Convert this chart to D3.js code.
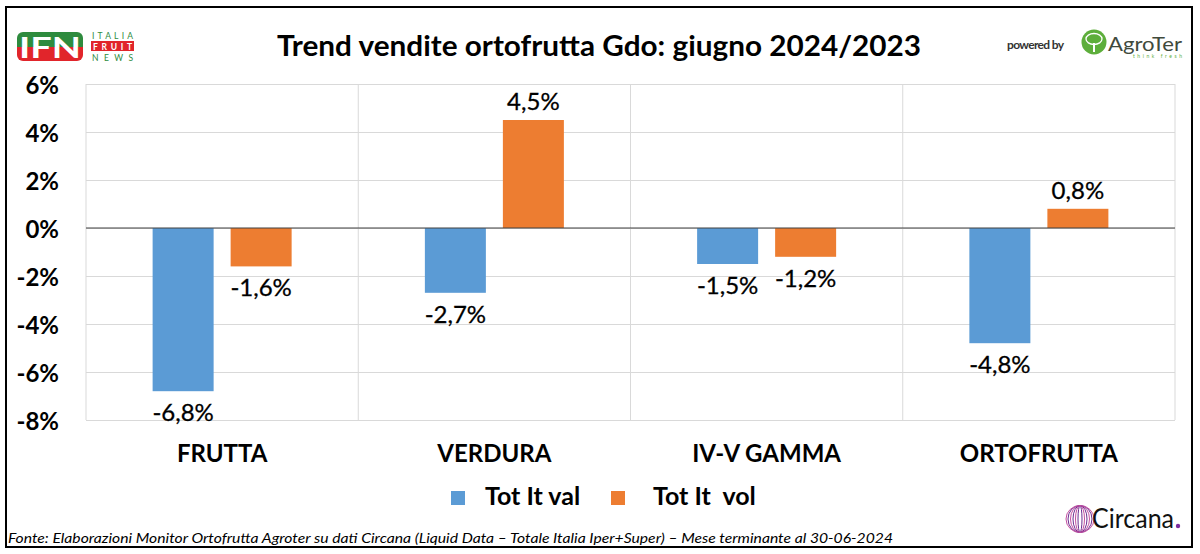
<!DOCTYPE html>
<html><head><meta charset="utf-8">
<script src="https://cdn.jsdelivr.net/npm/d3@7/dist/d3.min.js"></script>
<style>
html,body{margin:0;padding:0;background:#fff;}
svg{display:block;}
text{font-family:Lato,"Open Sans",sans-serif;}
</style></head>
<body>
<svg id="chart" width="1200" height="554"></svg>
<script>
const categories = ["FRUTTA", "VERDURA", "IV-V GAMMA", "ORTOFRUTTA"];
const seriesNames = ["Tot It val", "Tot It  vol"];
const totItVal = [-6.8, -2.7, -1.5, -4.8];
const totItVol = [-1.6, 4.5, -1.2, 0.8];
const yTicks = [6, 4, 2, 0, -2, -4, -6, -8];
const titleText = "Trend vendite ortofrutta Gdo: giugno 2024/2023";
const sourceText = "Fonte: Elaborazioni Monitor Ortofrutta Agroter su dati Circana (Liquid Data \u2013 Totale Italia Iper+Super) \u2013 Mese terminante al 30-06-2024";

const colors = ["#5B9BD5", "#ED7D31"];
const series = [totItVal, totItVol];

const svg = d3.select("#chart");
svg.append("rect").attr("width",1200).attr("height",554).attr("fill","#fff");
svg.append("rect").attr("x",6).attr("y",7).attr("width",1186).attr("height",540)
  .attr("fill","none").attr("stroke","#000").attr("stroke-width",2);

const pLeft = 86, pRight = 1175, pTop = 84, pBottom = 420;
const y = d3.scaleLinear().domain([-8, 6]).range([pBottom, pTop]);
const x0 = d3.scaleBand().domain(categories).range([pLeft, pRight]).padding(0);
const x1 = d3.scaleBand().domain([0, 1]).range([0, x0.bandwidth()])
  .paddingInner(0.218).paddingOuter(0.854);

// horizontal gridlines
const grid = svg.append("g").attr("transform", `translate(${pLeft},0)`)
  .call(d3.axisLeft(y).tickValues(yTicks).tickSize(-(pRight - pLeft)).tickFormat(""));
grid.select(".domain").remove();
grid.selectAll("line").attr("stroke", "#D9D9D9").attr("stroke-width", 1);

// vertical category separators
const bounds = categories.map(c => x0(c)).concat([pRight]);
svg.append("g").selectAll("line").data(bounds).join("line")
  .attr("x1", d => d).attr("x2", d => d).attr("y1", pTop).attr("y2", pBottom)
  .attr("stroke", "#D9D9D9").attr("stroke-width", 1);

// y axis labels
const yAxis = svg.append("g").attr("transform", `translate(59,0)`)
  .call(d3.axisLeft(y).tickValues(yTicks).tickSize(0).tickPadding(0)
    .tickFormat(d => (d < 0 ? "-" : "") + Math.abs(d) + "%"));
yAxis.select(".domain").remove();
yAxis.selectAll("text").attr("font-family", "Lato").attr("font-weight", "bold")
  .attr("font-size", 24).attr("fill", "#000").attr("dy", "0.4em");

// bars
const fmt = v => (v < 0 ? "-" : "") + d3.format(".1f")(Math.abs(v)).replace(".", ",") + "%";
const groups = svg.append("g").selectAll("g").data(categories).join("g")
  .attr("transform", d => `translate(${x0(d)},0)`);
series.forEach((vals, si) => {
  groups.append("rect")
    .attr("x", x1(si)).attr("width", x1.bandwidth())
    .attr("y", (d, i) => y(Math.max(0, vals[i])))
    .attr("height", (d, i) => Math.abs(y(vals[i]) - y(0)))
    .attr("fill", colors[si]);
  groups.append("text")
    .attr("x", x1(si) + x1.bandwidth() / 2)
    .attr("y", (d, i) => vals[i] >= 0 ? y(vals[i]) - 10 : y(vals[i]) + 30)
    .attr("text-anchor", "middle").attr("font-size", 24).attr("fill", "#000")
    .attr("stroke", "#000").attr("stroke-width", 0.3)
    .text((d, i) => fmt(vals[i]));
});

// zero line
svg.append("line").attr("x1", pLeft).attr("x2", pRight).attr("y1", y(0)).attr("y2", y(0))
  .attr("stroke", "#404040").attr("stroke-width", 1.2);

// category axis
const xAxis = svg.append("g").attr("transform", `translate(0,444)`)
  .call(d3.axisBottom(x0).tickSize(0).tickPadding(0));
xAxis.select(".domain").remove();
xAxis.selectAll("text").attr("font-family", "Lato").attr("font-weight", "bold")
  .attr("font-size", 24).attr("fill", "#000").attr("dy", "0.75em");

// title
svg.append("text").attr("x", 599).attr("y", 56).attr("text-anchor", "middle")
  .attr("font-weight", "bold").attr("font-size", 29).attr("fill", "#000")
  .attr("textLength", 644).attr("lengthAdjust", "spacingAndGlyphs").text(titleText);

// legend
const legendX = [451, 611];
const leg = svg.append("g").selectAll("g").data(seriesNames).join("g")
  .attr("transform", (d, i) => `translate(${legendX[i]},0)`);
leg.append("rect").attr("x", 0).attr("y", 491).attr("width", 14).attr("height", 14)
  .attr("fill", (d, i) => colors[i]);
leg.append("text").attr("x", (d, i) => i === 0 ? 34 : 42).attr("y", 505)
  .attr("font-weight", "bold").attr("font-size", 25).attr("fill", "#000")
  .style("white-space", "pre").text(d => d);

// source
svg.append("text").attr("x", 8).attr("y", 543).attr("font-style", "italic")
  .attr("font-size", 14).attr("fill", "#000")
  .attr("textLength", 885).attr("lengthAdjust", "spacingAndGlyphs").text(sourceText);

// IFN logo
const ifn = svg.append("g");
ifn.append("clipPath").attr("id", "ifnclip").append("rect")
  .attr("x", 17).attr("y", 32).attr("width", 66).attr("height", 29).attr("rx", 6);
ifn.append("rect").attr("x", 17).attr("y", 32).attr("width", 66).attr("height", 15)
  .attr("fill", "#2E8B3E").attr("clip-path", "url(#ifnclip)");
ifn.append("rect").attr("x", 17).attr("y", 47).attr("width", 66).attr("height", 14)
  .attr("fill", "#E1252B").attr("clip-path", "url(#ifnclip)");
ifn.append("text").attr("x", 50).attr("y", 58).attr("text-anchor", "middle")
  .attr("font-family", "DejaVu Sans").attr("font-weight", "bold").attr("font-size", 28)
  .attr("fill", "#fff").attr("textLength", 62).attr("lengthAdjust", "spacingAndGlyphs").text("IFN");
ifn.append("text").attr("x", 92).attr("y", 39).attr("font-size", 8.5).attr("fill", "#2E8B3E")
  .attr("font-family", "DejaVu Sans").attr("textLength", 41).text("ITALIA");
ifn.append("rect").attr("x", 91).attr("y", 41).attr("width", 43).attr("height", 10).attr("fill", "#E1252B");
ifn.append("text").attr("x", 93).attr("y", 49.5).attr("font-size", 8.5).attr("font-weight", "bold")
  .attr("fill", "#fff").attr("font-family", "DejaVu Sans").attr("textLength", 39).text("FRUIT");
ifn.append("text").attr("x", 92).attr("y", 61).attr("font-size", 8.5).attr("fill", "#2E8B3E")
  .attr("font-family", "DejaVu Sans").attr("textLength", 41).text("NEWS");

// AgroTer logo
const ag = svg.append("g");
ag.append("text").attr("x", 1007).attr("y", 49).attr("font-size", 12).attr("font-weight", "bold")
  .attr("fill", "#333").attr("textLength", 57).text("powered by");
ag.append("circle").attr("cx", 1094).attr("cy", 42).attr("r", 12.5).attr("fill", "#5DAE3B");
ag.append("ellipse").attr("cx", 1094).attr("cy", 39).attr("rx", 8).attr("ry", 5.5)
  .attr("fill", "none").attr("stroke", "#fff").attr("stroke-width", 1.3);
ag.append("line").attr("x1", 1094).attr("x2", 1094).attr("y1", 43).attr("y2", 52)
  .attr("stroke", "#fff").attr("stroke-width", 2);
ag.append("text").attr("x", 1108).attr("y", 51).attr("font-size", 19).attr("fill", "#3F4A3C")
  .attr("textLength", 74).attr("lengthAdjust", "spacingAndGlyphs").text("AgroTer");
ag.append("text").attr("x", 1133).attr("y", 58).attr("font-size", 5).attr("fill", "#5DAE3B")
  .attr("font-family", "DejaVu Sans Mono").attr("textLength", 49).text("think fresh");

// Circana logo
const cc = svg.append("g");
const ringR = [2, 4.5, 7, 9.5, 12, 14];
cc.selectAll("ellipse").data(ringR).join("ellipse")
  .attr("cx", 1080).attr("cy", 519).attr("rx", d => d).attr("ry", 13.5)
  .attr("fill", "none").attr("stroke", (d, i) => i % 2 ? "#C44FA0" : "#6B2C91").attr("stroke-width", 1);
cc.append("text").attr("x", 1092).attr("y", 528).attr("font-family", "Inter").attr("font-size", 26)
  .attr("fill", "#111").attr("textLength", 82).attr("lengthAdjust", "spacingAndGlyphs").text("Circana");
cc.append("circle").attr("cx", 1178).attr("cy", 526).attr("r", 2.2).attr("fill", "#7B2C9F");
</script>
</body></html>
